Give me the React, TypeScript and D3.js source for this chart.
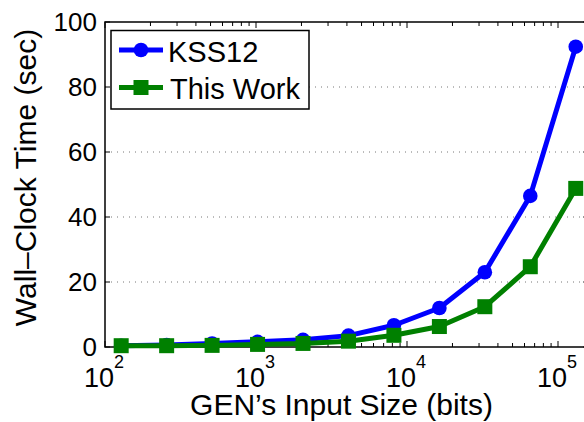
import React from "react";
import * as d3 from "d3";

const inputSizes = [128, 256, 512, 1024, 2048, 4096, 8192, 16384, 32768, 65536, 131072];
const kss12 = [0.4, 0.6, 1.1, 1.6, 2.2, 3.5, 6.7, 12.0, 23.0, 46.5, 92.4];
const thisWork = [0.4, 0.4, 0.5, 0.8, 1.1, 1.8, 3.6, 6.3, 12.4, 24.7, 48.8];
const yTicks = [0, 20, 40, 60, 80, 100];
const xMajor = [2, 3, 4, 5];
const seriesNames = ["KSS12", "This Work"];

const W = 584;
const H = 422;
const FONT = "'Liberation Sans', Arial, Helvetica, sans-serif";

export default function App() {
  const left = 105;
  const top = 22;
  const bottom = 347;
  const decade = 151;
  const xMax = Math.pow(10, 5.2);
  const right = left + decade * Math.log10(xMax / 100);
  const x = d3.scaleLog().domain([100, xMax]).range([left, right]);
  const y = d3.scaleLinear().domain([0, 100]).range([bottom, top]);

  const line = d3
    .line<number>()
    .x((_, i) => x(inputSizes[i]))
    .y((d) => y(d));

  const minorTicks: number[] = [];
  for (let e = 2; e <= 5; e++) {
    for (let m = 2; m <= 9; m++) {
      const v = m * Math.pow(10, e);
      if (v < xMax) minorTicks.push(v);
    }
  }

  const blue = "#0000ff";
  const green = "#008000";
  const lw = 5;

  return (
    <svg
      width={W}
      height={H}
      style={{ position: "absolute", left: 0, top: 0, background: "#fff" }}
      fontFamily={FONT}
    >
      <rect x={0} y={0} width={W} height={H} fill="#fff" />
      {/* grid */}
      {yTicks
        .filter((t) => t > 0 && t < 100)
        .map((t) => (
          <line
            key={"g" + t}
            x1={left}
            x2={right}
            y1={y(t)}
            y2={y(t)}
            stroke="#777"
            strokeWidth={1}
            strokeDasharray="1,5"
          />
        ))}
      {/* axes box */}
      <rect x={left} y={top} width={right - left} height={bottom - top} fill="none" stroke="#000" strokeWidth={1.5} />
      {/* y ticks */}
      {yTicks.map((t) => (
        <g key={"yt" + t}>
          <line x1={left} x2={left + 5} y1={y(t)} y2={y(t)} stroke="#000" strokeWidth={1} />
          <line x1={right} x2={right - 5} y1={y(t)} y2={y(t)} stroke="#000" strokeWidth={1} />
          <text x={left - 8} y={y(t)} dy="0.36em" textAnchor="end" fontSize={26} fill="#000">
            {t}
          </text>
        </g>
      ))}
      {/* x minor ticks */}
      {minorTicks.map((v, i) => (
        <g key={"xm" + i}>
          <line x1={x(v)} x2={x(v)} y1={bottom} y2={bottom - 4} stroke="#000" strokeWidth={1} />
          <line x1={x(v)} x2={x(v)} y1={top} y2={top + 4} stroke="#000" strokeWidth={1} />
        </g>
      ))}
      {/* x major ticks */}
      {xMajor.map((e) => {
        const px = x(Math.pow(10, e));
        return (
          <g key={"xM" + e}>
            <line x1={px} x2={px} y1={bottom} y2={bottom - 6} stroke="#000" strokeWidth={1} />
            <line x1={px} x2={px} y1={top} y2={top + 6} stroke="#000" strokeWidth={1} />
            <text x={px - 21} y={386.5} fontSize={27} fill="#000">
              10
            </text>
            <text x={px + 9} y={368} fontSize={18} fill="#000">
              {e}
            </text>
          </g>
        );
      })}
      {/* series */}
      <path d={line(kss12) || ""} fill="none" stroke={blue} strokeWidth={lw} strokeLinejoin="round" />
      {kss12.map((v, i) => (
        <circle key={"c" + i} cx={x(inputSizes[i])} cy={y(v)} r={7.3} fill={blue} />
      ))}
      <path d={line(thisWork) || ""} fill="none" stroke={green} strokeWidth={lw} strokeLinejoin="round" />
      {thisWork.map((v, i) => (
        <rect key={"s" + i} x={x(inputSizes[i]) - 7.5} y={y(v) - 7.5} width={15} height={15} fill={green} />
      ))}
      {/* legend */}
      <rect x={111} y={30.5} width={198} height={78.5} fill="#fff" stroke="#000" strokeWidth={1.5} />
      <line x1={119} x2={163} y1={50} y2={50} stroke={blue} strokeWidth={lw} />
      <circle cx={141} cy={50} r={7.3} fill={blue} />
      <text x={168} y={62.3} fontSize={29} fill="#000">
        {seriesNames[0]}
      </text>
      <line x1={119} x2={163} y1={87.5} y2={87.5} stroke={green} strokeWidth={lw} />
      <rect x={133.5} y={80} width={15} height={15} fill={green} />
      <text x={170} y={99} fontSize={29} fill="#000">
        {seriesNames[1]}
      </text>
      {/* axis titles */}
      <text x={(190 + 493) / 2} y={415} textAnchor="middle" fontSize={30} fill="#000">
        GEN’s Input Size (bits)
      </text>
      <text
        transform={`translate(36, ${(22 + 333) / 2}) rotate(-90)`}
        textAnchor="middle"
        fontSize={30}
        fill="#000"
      >
        Wall–Clock Time (sec)
      </text>
    </svg>
  );
}
